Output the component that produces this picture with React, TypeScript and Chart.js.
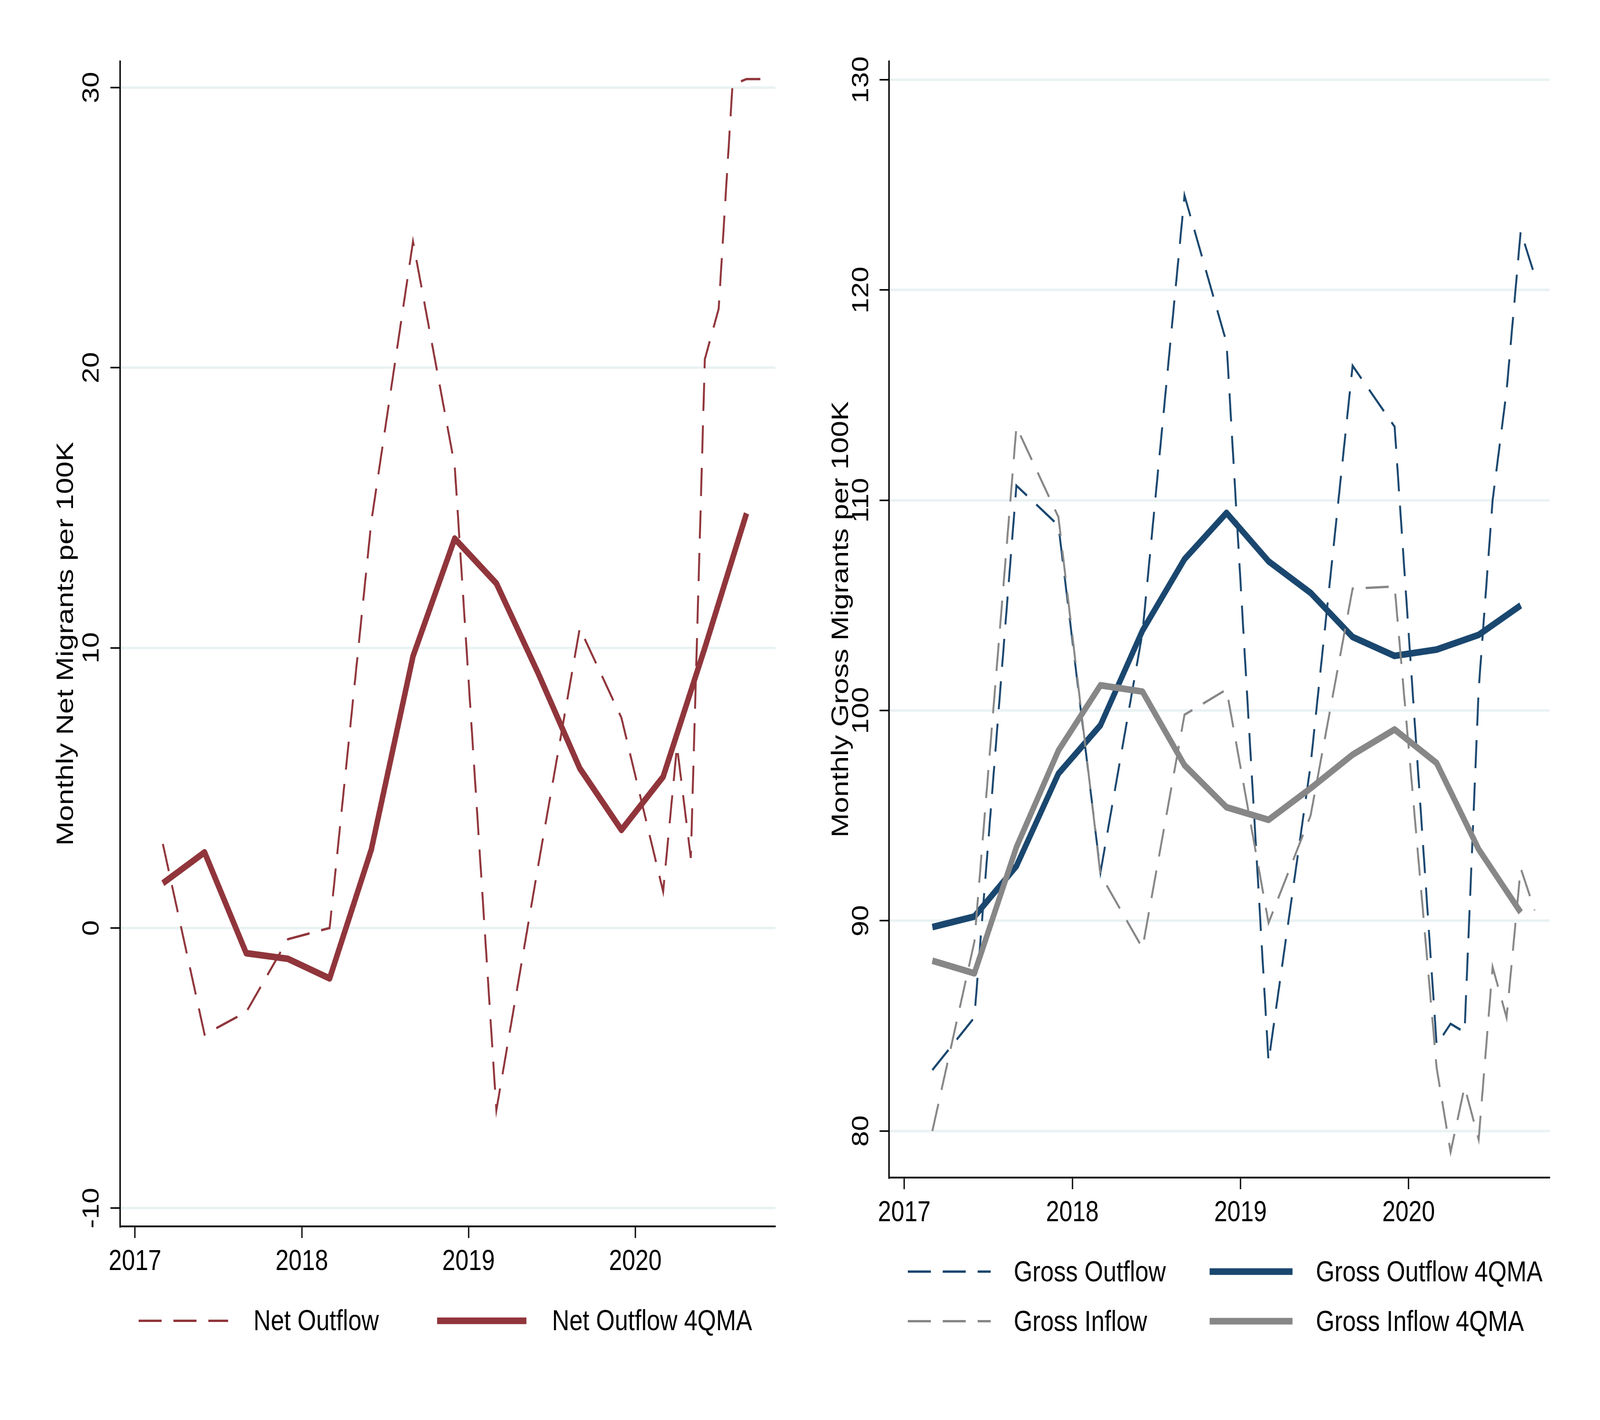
import { Chart, ChartConfiguration, Plugin, registerables } from "chart.js";
import { useEffect, useRef, useState } from "react";

Chart.register(...registerables);

// quarterly points, then monthly from Feb 2020 (decimal years)
const flowDates = [
  2017.167, 2017.417, 2017.667, 2017.917, 2018.167, 2018.417, 2018.667, 2018.917,
  2019.167, 2019.417, 2019.667, 2019.917, 2020.167, 2020.25, 2020.333, 2020.417,
  2020.5, 2020.583, 2020.667, 2020.75,
];
const maDates = [
  2017.167, 2017.417, 2017.667, 2017.917, 2018.167, 2018.417, 2018.667, 2018.917,
  2019.167, 2019.417, 2019.667, 2019.917, 2020.167, 2020.417, 2020.667,
];

const netOutflow = [
  3.0, -3.8, -3.0, -0.4, 0.0, 14.5, 24.5, 16.5, -6.5, 2.2, 10.7, 7.5, 1.3, 6.5, 2.5,
  20.3, 22.1, 30.1, 30.3, 30.3,
];
const netOutflowMA = [1.6, 2.7, -0.9, -1.1, -1.8, 2.8, 9.7, 13.9, 12.3, 9.1, 5.7, 3.5, 5.4, 10.0, 14.8];

const grossOutflow = [
  82.9, 85.4, 110.7, 108.8, 92.3, 103.7, 124.5, 117.5, 83.3, 97.4, 116.4, 113.5, 84.1,
  85.1, 84.7, 101.0, 110.0, 115.2, 122.8, 120.7,
];
const grossInflow = [
  80.0, 89.0, 113.5, 109.2, 92.2, 88.7, 99.8, 101.0, 89.9, 95.0, 105.8, 105.9, 83.0,
  79.0, 82.1, 79.6, 87.8, 85.4, 92.5, 90.5,
];
const grossOutflowMA = [89.7, 90.2, 92.6, 97.0, 99.3, 103.8, 107.2, 109.4, 107.1, 105.6, 103.5, 102.6, 102.9, 103.6, 105.0];
const grossInflowMA = [88.1, 87.5, 93.5, 98.1, 101.2, 100.9, 97.4, 95.4, 94.8, 96.3, 97.9, 99.1, 97.5, 93.4, 90.4];

const yearTicks = [2017, 2018, 2019, 2020];
const netTicks = [-10, 0, 10, 20, 30];
const grossTicks = [80, 90, 100, 110, 120, 130];

const FONT = '"Liberation Sans", Arial, Helvetica, sans-serif';
const GRID = "#eaf2f3";
const MAROON = "#90353b";
const NAVY = "#1a476f";
const GRAY = "#878787";
const DASH = [72, 37];
const W = 2500;
const H = 3636;

Chart.defaults.font.family = FONT;
Chart.defaults.color = "#000";

const pts = (xs: number[], ys: number[]) => xs.map((x, i) => ({ x, y: ys[i] }));

type LegendEntry = { index: number; x0: number; x1: number; tx: number; y: number; ty: number };

// stata-style legend: line sample + label at fixed spots under the plot
function stataLegend(entries: LegendEntry[]): Plugin<"line"> {
  return {
    id: "stataLegend",
    afterDraw(chart) {
      const ctx = chart.ctx;
      ctx.save();
      for (const e of entries) {
        const ds = chart.data.datasets[e.index] as any;
        ctx.strokeStyle = ds.borderColor;
        ctx.lineWidth = ds.borderWidth;
        ctx.lineCap = "butt";
        ctx.setLineDash(ds.borderDash ?? []);
        ctx.beginPath();
        ctx.moveTo(e.x0, e.y);
        ctx.lineTo(e.x1, e.y);
        ctx.stroke();
        ctx.setLineDash([]);
        ctx.fillStyle = "#000";
        ctx.font = `75px ${FONT}`;
        ctx.textAlign = "left";
        ctx.textBaseline = "middle";
        ctx.fillText(ds.label, e.tx, e.ty);
      }
      ctx.restore();
    },
  };
}

function makeScales(opts: {
  yMin: number;
  yMax: number;
  yTicks: number[];
  title: string;
  titlePad: number;
  tickPad: number;
  yWidth: number;
  xHeight: number;
}) {
  return {
    x: {
      type: "linear" as const,
      min: 2016.91,
      max: 2020.84,
      afterBuildTicks: (scale: any) => {
        scale.ticks = yearTicks.map((value) => ({ value }));
      },
      afterFit: (scale: any) => {
        scale.height = opts.xHeight;
      },
      grid: {
        display: true,
        drawOnChartArea: false,
        drawTicks: true,
        tickLength: 30,
        tickWidth: 4,
        tickColor: "#000",
      },
      border: { display: true, color: "#000", width: 4.5 },
      ticks: {
        color: "#000",
        font: { size: 74, family: FONT },
        padding: 17,
        autoSkip: false,
        maxRotation: 0,
        callback: (v: any) => String(v),
      },
    },
    y: {
      type: "linear" as const,
      min: opts.yMin,
      max: opts.yMax,
      afterBuildTicks: (scale: any) => {
        scale.ticks = opts.yTicks.map((value) => ({ value }));
      },
      afterFit: (scale: any) => {
        scale.width = opts.yWidth;
      },
      grid: {
        color: GRID,
        lineWidth: 6.5,
        drawTicks: true,
        tickLength: 30,
        tickWidth: 4,
        tickColor: "#000",
      },
      border: { display: true, color: "#000", width: 4.5 },
      ticks: {
        color: "#000",
        font: { size: 72, family: FONT },
        minRotation: 90,
        maxRotation: 90,
        crossAlign: "center" as const,
        padding: opts.tickPad,
        autoSkip: false,
        callback: (v: any) => String(v),
      },
      title: {
        display: true,
        text: opts.title,
        color: "#000",
        font: { size: 75, family: FONT },
        padding: { top: opts.titlePad, bottom: 0 },
      },
    },
  };
}

const lineDefaults = {
  pointRadius: 0,
  pointHoverRadius: 0,
  fill: false,
  tension: 0,
};

function netConfig(): ChartConfiguration<"line"> {
  return {
    type: "line",
    data: {
      datasets: [
        {
          ...lineDefaults,
          label: "Net Outflow",
          data: pts(flowDates, netOutflow),
          borderColor: MAROON,
          borderWidth: 6,
          borderDash: DASH,
          order: 2,
        },
        {
          ...lineDefaults,
          label: "Net Outflow 4QMA",
          data: pts(maDates, netOutflowMA),
          borderColor: MAROON,
          borderWidth: 17,
          borderJoinStyle: "round",
          order: 1,
        },
      ],
    },
    options: {
      responsive: false,
      maintainAspectRatio: false,
      devicePixelRatio: 1,
      animation: false,
      events: [],
      layout: { padding: { top: 157, right: 77, bottom: 300, left: 0 } },
      scales: makeScales({
        yMin: -10.647,
        yMax: 30.934,
        yTicks: netTicks,
        title: "Monthly Net Migrants per 100K",
        titlePad: 162,
        tickPad: 5,
        yWidth: 375,
        xHeight: 196,
      }) as any,
      plugins: {
        legend: { display: false },
        tooltip: { enabled: false },
      },
    },
    plugins: [
      stataLegend([
        { index: 0, x0: 433, x1: 713, tx: 792, y: 3382, ty: 3385 },
        { index: 1, x0: 1366, x1: 1645, tx: 1725, y: 3382, ty: 3385 },
      ]),
    ],
  };
}

function grossConfig(): ChartConfiguration<"line"> {
  return {
    type: "line",
    data: {
      datasets: [
        {
          ...lineDefaults,
          label: "Gross Outflow",
          data: pts(flowDates, grossOutflow),
          borderColor: NAVY,
          borderWidth: 6,
          borderDash: DASH,
          order: 4,
        },
        {
          ...lineDefaults,
          label: "Gross Outflow 4QMA",
          data: pts(maDates, grossOutflowMA),
          borderColor: NAVY,
          borderWidth: 17,
          borderJoinStyle: "round",
          order: 3,
        },
        {
          ...lineDefaults,
          label: "Gross Inflow",
          data: pts(flowDates, grossInflow),
          borderColor: GRAY,
          borderWidth: 6,
          borderDash: DASH,
          order: 2,
        },
        {
          ...lineDefaults,
          label: "Gross Inflow 4QMA",
          data: pts(maDates, grossInflowMA),
          borderColor: GRAY,
          borderWidth: 17,
          borderJoinStyle: "round",
          order: 1,
        },
      ],
    },
    options: {
      responsive: false,
      maintainAspectRatio: false,
      devicePixelRatio: 1,
      animation: false,
      events: [],
      layout: { padding: { top: 157, right: 157, bottom: 300, left: 0 } },
      scales: makeScales({
        yMin: 77.79,
        yMax: 130.88,
        yTicks: grossTicks,
        title: "Monthly Gross Migrants per 100K",
        titlePad: 84,
        tickPad: -4.5,
        yWidth: 278.6,
        xHeight: 321,
      }) as any,
      plugins: {
        legend: { display: false },
        tooltip: { enabled: false },
      },
    },
    plugins: [
      stataLegend([
        { index: 0, x0: 337, x1: 596, tx: 668, y: 3256, ty: 3260 },
        { index: 1, x0: 1280, x1: 1539, tx: 1612, y: 3256, ty: 3260 },
        { index: 2, x0: 337, x1: 596, tx: 668, y: 3383, ty: 3387 },
        { index: 3, x0: 1280, x1: 1539, tx: 1612, y: 3383, ty: 3387 },
      ]),
    ],
  };
}

function Panel({ build, cssWidth }: { build: () => ChartConfiguration<"line">; cssWidth: number }) {
  const canvasRef = useRef<HTMLCanvasElement | null>(null);

  useEffect(() => {
    if (!canvasRef.current) return;
    const chart = new Chart(canvasRef.current, build());
    return () => {
      chart.destroy();
    };
  }, [build]);

  // bitmap stays 2500x3636; only the displayed width follows the viewport
  return (
    <canvas
      ref={canvasRef}
      width={W}
      height={H}
      style={{ display: "block", width: cssWidth, height: H, flex: "none" }}
    />
  );
}

export default function App() {
  const [sx] = useState(() => {
    const vw = typeof window === "undefined" ? 2 * W : window.innerWidth || 2 * W;
    return Math.min(1, vw / (2 * W));
  });

  return (
    <div
      style={{
        position: "absolute",
        left: 0,
        top: 0,
        width: 2 * W * sx,
        height: H,
        display: "flex",
        background: "#fff",
        overflow: "hidden",
      }}
    >
      <Panel build={netConfig} cssWidth={W * sx} />
      <Panel build={grossConfig} cssWidth={W * sx} />
    </div>
  );
}
